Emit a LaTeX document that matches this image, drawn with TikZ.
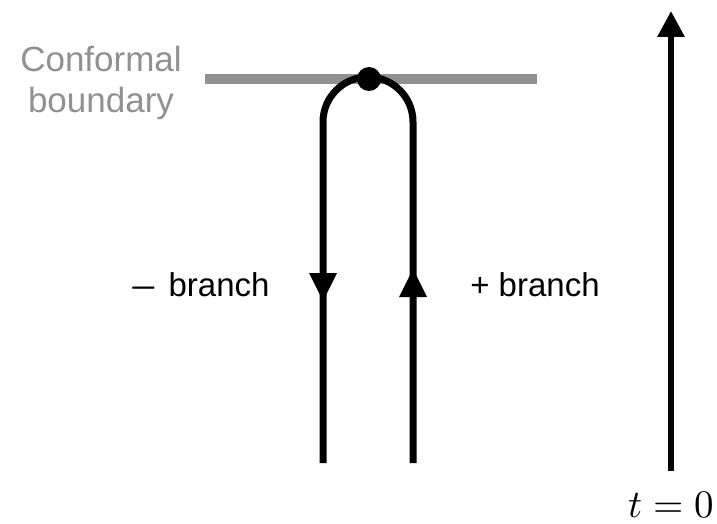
\documentclass[tikz,border=0pt]{standalone}
\usepackage[no-math]{fontspec}
\newfontfamily\labelfont{Liberation Sans}
\usetikzlibrary{arrows.meta}
\definecolor{bdgray}{RGB}{145,145,145}
\tikzset{
  worldline/.style={line width=7pt, black},
  branchlabel/.style={font=\labelfont\fontsize{33}{40}\selectfont, inner sep=0pt},
  bdlabel/.style={font=\labelfont\fontsize{35}{41}\selectfont, text=bdgray, align=center, inner sep=0pt},
  tiparrow/.style={fill=black},
}
\begin{document}
\begin{tikzpicture}[x=1pt,y=-1pt]
  \useasboundingbox (0,0) rectangle (717,524);

  % conformal boundary
  \coordinate (bdL) at (205,79);
  \coordinate (bdR) at (537,79);
  \draw[bdgray, line width=10pt] (bdL) -- (bdR);
  \node[bdlabel] (bdtext) at (101,83) {Conformal\\boundary};

  % closed time path: minus branch down, plus branch up
  \coordinate (mBot) at (323,463);
  \coordinate (mTop) at (323,122);
  \coordinate (pTop) at (413,122);
  \coordinate (pBot) at (413,463);
  \draw[worldline] (mBot) -- (mTop) arc[start angle=180, end angle=0, radius=45pt] -- (pBot);
  \node[circle, fill=black, minimum size=24pt, inner sep=0pt] (vertex) at (369,79) {};

  % direction markers on the branches
  \coordinate (mTip) at (323,301);
  \coordinate (pTip) at (413,269);
  \fill[tiparrow] (mTip) -- ++(-14,-28) -- ++(28,0) -- cycle;
  \fill[tiparrow] (pTip) -- ++(-14,28) -- ++(28,0) -- cycle;

  \node[branchlabel] (mlabel) at (201,285) {\scalebox{1.2}[1]{–}\hspace{5pt} branch};
  \node[branchlabel] (plabel) at (535,285) {+ branch};

  % time axis
  \coordinate (tBot) at (671,471);
  \coordinate (tTop) at (671,11);
  \draw[line width=6pt, -{Triangle[width=26pt,length=26pt]}] (tBot) -- (tTop);
  \node[inner sep=0pt] (tlabel) at (671,505) {\scalebox{3.9}{$t=0$}};
\end{tikzpicture}
\end{document}
